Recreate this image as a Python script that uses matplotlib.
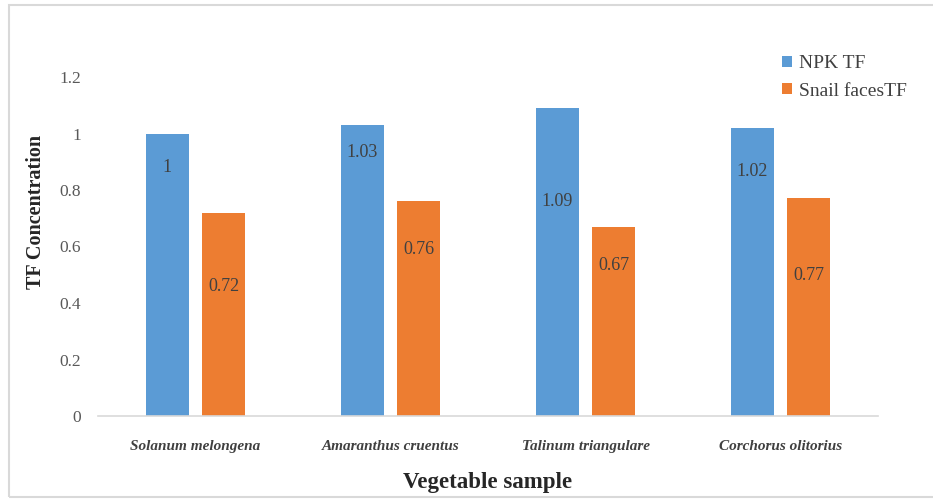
import matplotlib
matplotlib.use("Agg")
import matplotlib.pyplot as plt
from matplotlib.patches import Rectangle
import numpy as np

# Transfer factor data
categories = ["Solanum melongena", "Amaranthus cruentus", "Talinum triangulare", "Corchorus olitorius"]
npk_tf = [1.00, 1.03, 1.09, 1.02]
snail_tf = [0.72, 0.76, 0.67, 0.77]
npk_labels = ["1", "1.03", "1.09", "1.02"]
snail_labels = ["0.72", "0.76", "0.67", "0.77"]
y_ticks = [0, 0.2, 0.4, 0.6, 0.8, 1.0, 1.2]
y_tick_labels = ["0", "0.2", "0.4", "0.6", "0.8", "1", "1.2"]

# Vertical placement of the value labels inside each bar (data units)
npk_label_y = [0.878, 0.931, 0.761, 0.864]
snail_label_y = [0.460, 0.591, 0.531, 0.499]

blue = "#5B9BD5"
orange = "#ED7D31"
serif = ["Liberation Serif", "DejaVu Serif"]

fig = plt.figure(figsize=(9.33, 4.99), dpi=100)
fig.patch.set_facecolor("white")

# Outer chart frame
fig.patches.append(Rectangle((9 / 933, 2 / 499), 1.2, 492 / 499, transform=fig.transFigure,
                             fill=False, edgecolor="#D9D9D9", linewidth=1.5))

ax = fig.add_axes([98 / 933, 1 - 416 / 499, (878 - 98) / 933, (416 - 77) / 499])
x = np.arange(len(categories))
width = 0.22
offset = 0.144

ax.bar(x - offset, npk_tf, width, color=blue, label="NPK TF")
ax.bar(x + offset, snail_tf, width, color=orange, label="Snail facesTF")

for i in range(len(categories)):
    ax.text(x[i] - offset, npk_label_y[i], npk_labels[i], ha="center", va="center",
            fontsize=13, color="#404040", family=serif)
    ax.text(x[i] + offset, snail_label_y[i], snail_labels[i], ha="center", va="center",
            fontsize=13, color="#404040", family=serif)

ax.set_xlim(-0.5, len(categories) - 0.5)
ax.set_ylim(0, 1.2)
ax.set_yticks(y_ticks)
ax.set_yticklabels(y_tick_labels, family=serif, fontsize=12.5, color="#595959")
ax.set_xticks(x)
ax.set_xticklabels(categories, family=serif, fontsize=11, style="italic",
                   fontweight="bold", color="#404040")
ax.tick_params(axis="both", length=0)
ax.tick_params(axis="y", pad=12)
ax.tick_params(axis="x", pad=17)

for side in ["top", "right", "left"]:
    ax.spines[side].set_visible(False)
ax.spines["bottom"].set_color("#D9D9D9")
ax.spines["bottom"].set_linewidth(1.2)

ax.set_ylabel("TF Concentration", family=serif, fontsize=14.5, fontweight="bold",
              color="#262626")
ax.yaxis.set_label_coords((46 - 98) / 780, (416 - 212) / 339)
ax.set_xlabel("Vegetable sample", family=serif, fontsize=16.5, fontweight="bold",
              color="#262626")
ax.xaxis.set_label_coords((488 - 98) / 780, (416 - 472) / 339)

fig.legend(loc="center left", bbox_to_anchor=(782 / 933, 1 - 77.5 / 499), frameon=False,
           prop={"family": serif, "size": 14}, labelcolor="#404040",
           handlelength=0.5, handleheight=0.5, handletextpad=0.35, labelspacing=0.55,
           borderpad=0, borderaxespad=0)

fig.savefig("out.png", dpi=100, facecolor="white")
